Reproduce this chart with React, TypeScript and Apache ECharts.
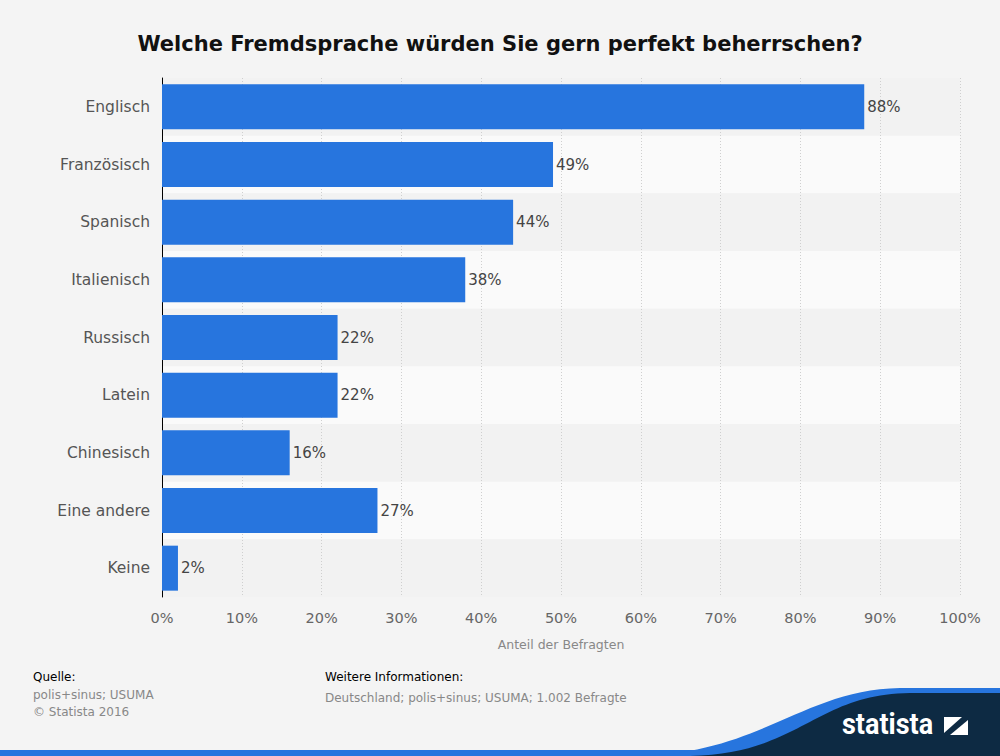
import React, { useEffect, useRef } from "react";
import * as echarts from "echarts";

const categories = ["Englisch", "Französisch", "Spanisch", "Italienisch", "Russisch", "Latein", "Chinesisch", "Eine andere", "Keine"];
const values = [88, 49, 44, 38, 22, 22, 16, 27, 2];
const xTicks = [0, 10, 20, 30, 40, 50, 60, 70, 80, 90, 100];

const FONT = "DejaVu Sans, Verdana, sans-serif";

echarts.graphic.registerShape(
  "waveBlue",
  echarts.graphic.extendPath("M 630 756 C 760 756, 800 690, 900 688 L 1000 688 L 1000 756 Z", {})
);
echarts.graphic.registerShape(
  "waveNavy",
  echarts.graphic.extendPath("M 690 756 C 800 754, 815 694, 910 693 L 1000 693 L 1000 756 Z", {})
);

export default function App() {
  const ref = useRef<HTMLDivElement>(null);
  useEffect(() => {
    if (!ref.current) return;
    const chart = echarts.init(ref.current, undefined, { renderer: "svg" });
    chart.setOption({
      animation: false,
      backgroundColor: "#f4f4f4",
      title: {
        text: "Welche Fremdsprache würden Sie gern perfekt beherrschen?",
        left: "center",
        top: 28,
        textStyle: { fontFamily: FONT, fontSize: 21, fontWeight: "bold", color: "#111" },
      },
      grid: { left: 162, right: 40, top: 78, bottom: 159, containLabel: false },
      xAxis: {
        type: "value",
        min: 0,
        max: 100,
        interval: 10,
        name: "Anteil der Befragten",
        nameLocation: "middle",
        nameGap: 41,
        nameTextStyle: { fontFamily: FONT, fontSize: 12.5, color: "#888" },
        axisLine: { show: false },
        axisTick: { show: false },
        axisLabel: {
          fontFamily: FONT,
          fontSize: 14.5,
          color: "#666",
          margin: 13,
          formatter: (v: number) => (xTicks.includes(v) ? v + "%" : ""),
        },
        splitLine: { show: true, lineStyle: { color: "#cfcfcf", type: [1, 2], width: 1 } },
      },
      yAxis: {
        type: "category",
        data: categories,
        inverse: true,
        axisLine: { show: true, lineStyle: { color: "#000", width: 1 } },
        axisTick: { show: false },
        axisLabel: { fontFamily: FONT, fontSize: 15.5, color: "#555", margin: 12 },
        splitArea: { show: true, areaStyle: { color: ["#f2f2f2", "#fafafa"] } },
      },
      series: [
        {
          type: "bar",
          data: values,
          barWidth: 45,
          itemStyle: { color: "#2775de" },
          label: {
            show: true,
            position: "right",
            distance: 3,
            formatter: "{c}%",
            fontFamily: FONT,
            fontSize: 15,
            color: "#444",
          },
        },
      ],
      graphic: [
        { type: "text", left: 33, top: 671, style: { text: "Quelle:", font: `12px ${FONT}`, fill: "#000" } },
        { type: "text", left: 33, top: 689, style: { text: "polis+sinus; USUMA", font: `12px ${FONT}`, fill: "#888" } },
        { type: "text", left: 33, top: 706, style: { text: "© Statista 2016", font: `12px ${FONT}`, fill: "#888" } },
        { type: "text", left: 325, top: 671, style: { text: "Weitere Informationen:", font: `12px ${FONT}`, fill: "#000" } },
        { type: "text", left: 325, top: 692, style: { text: "Deutschland; polis+sinus; USUMA; 1.002 Befragte", font: `12px ${FONT}`, fill: "#888" } },
        { type: "rect", shape: { x: 0, y: 750, width: 1000, height: 6 }, style: { fill: "#2775de" } },
        { type: "waveBlue", style: { fill: "#2775de" } },
        { type: "waveNavy", style: { fill: "#0d2a43" } },
        {
          type: "text",
          x: 842,
          y: 724,
          scaleX: 0.9,
          style: { text: "statista", font: `bold 30px Roboto, ${FONT}`, fill: "#fff", verticalAlign: "middle" },
        },
        { type: "rect", shape: { x: 944, y: 717, width: 24, height: 18 }, style: { fill: "#fff" } },
        {
          type: "polygon",
          shape: { points: [[944, 733], [962, 717], [968, 717], [968, 720], [950, 735], [944, 735]] },
          style: { fill: "#0d2a43" },
        },
      ],
    });
    return () => chart.dispose();
  }, []);
  return <div ref={ref} style={{ width: 1000, height: 756, position: "absolute", left: 0, top: 0 }} />;
}
